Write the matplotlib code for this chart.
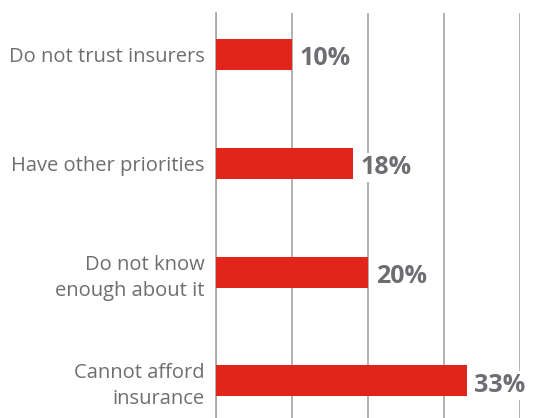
import matplotlib.pyplot as plt

# Reasons for not having insurance (share of respondents, %)
reasons = [
    "Do not trust insurers",
    "Have other priorities",
    "Do not know\nenough about it",
    "Cannot afford\ninsurance",
]
shares = [10, 18, 20, 33]
share_labels = ["10%", "18%", "20%", "33%"]

RED = "#e1251b"
GREY = "#6d6e71"
GRID = "#a6a6a6"


def main():
    plt.rcParams["font.family"] = ["Open Sans", "DejaVu Sans"]

    fig = plt.figure(figsize=(5.34, 4.18), dpi=100)
    ax = fig.add_axes([216 / 534, 0.0, 304 / 534, 405 / 418])

    # top row first
    ypos = list(range(len(reasons)))[::-1]
    ax.barh(ypos, shares, height=0.285, color=RED, zorder=3)

    for y, val, lab in zip(ypos, shares, share_labels):
        ax.text(val + 1.0, y - 0.04, lab, ha="left", va="center",
                fontsize=18, fontweight="bold", color=GREY, zorder=4,
                bbox=dict(facecolor="white", edgecolor="none", pad=1.5))

    ax.set_xlim(0, 40)
    ax.set_ylim(-0.34, 3.38)
    ax.set_xticks([0, 10, 20, 30, 40])
    ax.grid(axis="x", color=GRID, linewidth=1.2, zorder=0)
    ax.tick_params(axis="x", length=0, labelbottom=False)
    ax.tick_params(axis="y", length=0, pad=8)

    ax.set_yticks(ypos)
    ax.set_yticklabels(reasons, fontsize=14.5, color=GREY, ha="right",
                       linespacing=1.4)

    for side in ["top", "right", "bottom"]:
        ax.spines[side].set_visible(False)
    ax.spines["left"].set_color(GRID)
    ax.spines["left"].set_linewidth(1.2)

    fig.savefig("out.png", dpi=100)


if __name__ == "__main__":
    main()
